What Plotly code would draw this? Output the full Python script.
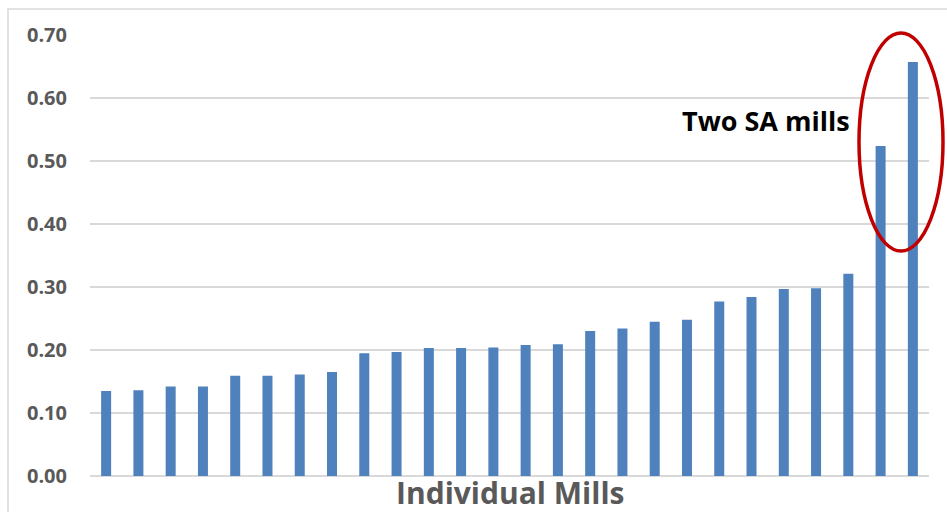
import plotly.graph_objects as go

# Mills, sorted ascending by value
mills = ["Mill 1", "Mill 2", "Mill 3", "Mill 4", "Mill 5", "Mill 6", "Mill 7",
         "Mill 8", "Mill 9", "Mill 10", "Mill 11", "Mill 12", "Mill 13",
         "Mill 14", "Mill 15", "Mill 16", "Mill 17", "Mill 18", "Mill 19",
         "Mill 20", "Mill 21", "Mill 22", "Mill 23", "Mill 24", "Mill 25",
         "Mill 26"]
values = [0.135, 0.136, 0.142, 0.142, 0.159, 0.159, 0.161, 0.165, 0.195,
          0.197, 0.203, 0.203, 0.204, 0.208, 0.209, 0.230, 0.234, 0.245,
          0.248, 0.277, 0.284, 0.297, 0.298, 0.321, 0.524, 0.657]
y_ticks = [0.0, 0.1, 0.2, 0.3, 0.4, 0.5, 0.6, 0.7]

W, H = 947, 512
ML, MR, MT, MB = 90, 18, 35, 36
pw, ph = W - ML - MR, H - MT - MB


def px_x(x):
    return (x - ML) / pw


def px_y(y):
    return (H - MB - y) / ph


fig = go.Figure(go.Bar(
    x=mills, y=values,
    marker=dict(color="#4F81BD", line=dict(width=0)),
    width=0.31,
    hoverinfo="x+y",
))

grey = "#595959"
fig.update_layout(
    width=W, height=H,
    margin=dict(l=ML, r=MR, t=MT, b=MB),
    plot_bgcolor="white", paper_bgcolor="white",
    showlegend=False,
    font=dict(family="Open Sans", color=grey),
    xaxis=dict(showticklabels=False, showgrid=False, zeroline=False,
               showline=False, ticks=""),
    yaxis=dict(range=[0, 0.70], tickvals=y_ticks, tickformat=".2f",
               showgrid=True, gridcolor="#D9D9D9", gridwidth=1.5,
               zeroline=True, zerolinecolor="#D9D9D9", zerolinewidth=1.5,
               showline=False, ticks="", ticklabelstandoff=22,
               tickfont=dict(family="Open Sans", size=20, color=grey,
                             weight="bold")),
    shapes=[
        # chart frame
        dict(type="rect", xref="paper", yref="paper",
             x0=px_x(8), x1=px_x(1000), y0=px_y(9), y1=px_y(560),
             line=dict(color="#D9D9D9", width=1.5), fillcolor="rgba(0,0,0,0)",
             layer="below"),
        # highlight around the two SA mills
        dict(type="circle", xref="paper", yref="paper",
             x0=px_x(859), x1=px_x(943), y0=px_y(33), y1=px_y(251),
             line=dict(color="#C00000", width=3.5)),
    ],
    annotations=[
        dict(text="Two SA mills", xref="paper", yref="paper",
             x=px_x(766), y=px_y(121), xanchor="center", yanchor="middle",
             showarrow=False,
             font=dict(family="Open Sans", size=27, color="black",
                       weight="bold")),
        dict(text="Individual Mills", xref="paper", yref="paper",
             x=0.5, y=px_y(515), xanchor="center", yanchor="bottom",
             showarrow=False,
             font=dict(family="Open Sans", size=30, color=grey,
                       weight="bold")),
    ],
)

fig.write_html("out.html")
